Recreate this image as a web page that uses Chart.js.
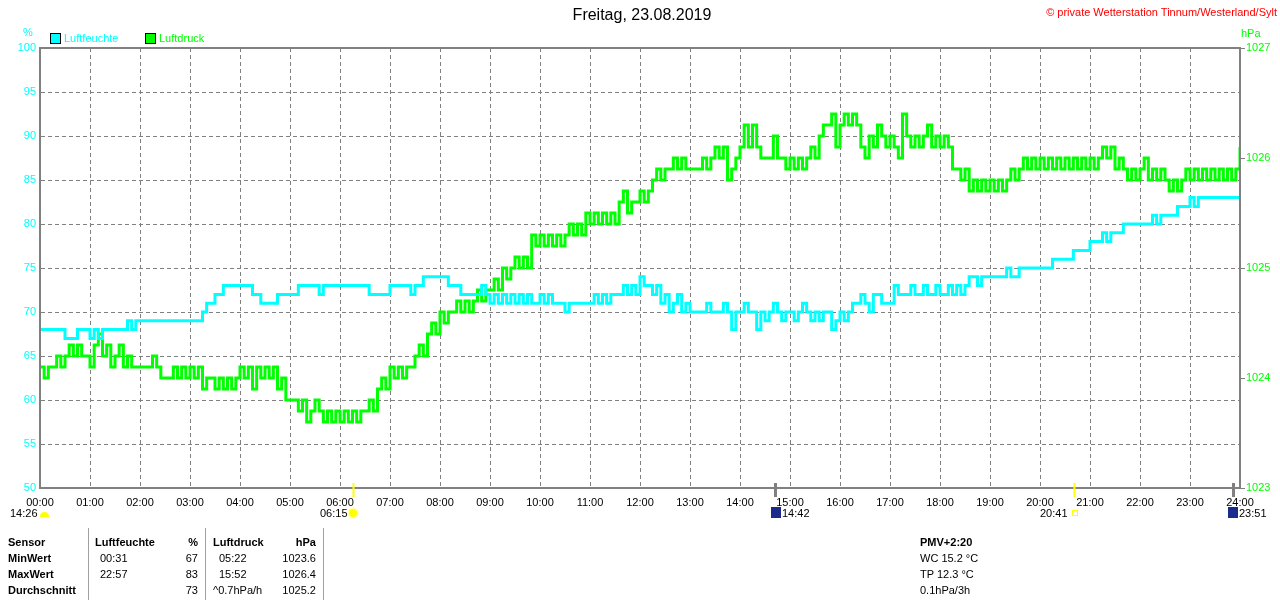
<!DOCTYPE html>
<html>
<head>
<meta charset="utf-8">
<script src="https://cdn.jsdelivr.net/npm/chart.js@4.4.1/dist/chart.umd.min.js"></script>
<style>
body { margin: 0; background: #fff; font-family: "Liberation Sans", Arial, sans-serif; font-size: 11px; }
#wrap { position: relative; width: 1280px; height: 600px; overflow: hidden; }
#chart { position: absolute; left: 0; top: 0; }
.t { position: absolute; white-space: nowrap; line-height: 12px; }
.b { font-weight: bold; }
.sep { position: absolute; top: 528px; width: 1px; height: 72px; background: #a0a0a0; }
.box { position: absolute; width: 9px; height: 9px; border: 1px solid #000; }
</style>
</head>
<body>
<div id="wrap">
  <canvas id="chart" width="1280" height="600"></canvas>

  <div class="t" style="left:0;width:1284px;text-align:center;top:7px;font-size:16px;line-height:16px;">Freitag, 23.08.2019</div>
  <div class="t" style="right:3px;top:6px;color:#ff0000;">© private Wetterstation Tinnum/Westerland/Sylt</div>

  <div class="t" style="left:23px;top:26px;color:#00ffff;">%</div>
  <div class="t" style="left:1241px;top:27px;color:#00ff00;">hPa</div>

  <div class="box" style="left:50px;top:33px;background:#00ffff;"></div>
  <div class="t" style="left:64px;top:32px;color:#00ffff;">Luftfeuchte</div>
  <div class="box" style="left:145px;top:33px;background:#00ff00;"></div>
  <div class="t" style="left:159px;top:32px;color:#00ff00;">Luftdruck</div>

  <!-- sun / moon times under the axis -->
  <div class="t" style="left:10px;top:507px;">14:26</div>
  <div style="position:absolute;left:40px;top:512px;width:9px;height:5px;background:#ffff00;border-radius:5px 5px 0 0;"></div>
  <div class="t" style="left:320px;top:507px;">06:15</div>
  <div style="position:absolute;left:349px;top:509px;width:8px;height:8px;background:#ffff00;border-radius:50%;box-shadow:0 0 2px 1px #ffff80;"></div>
  <div style="position:absolute;left:771px;top:507px;width:10px;height:11px;background:#1c2a8c;"></div>
  <div class="t" style="left:782px;top:507px;">14:42</div>
  <div class="t" style="left:1040px;top:507px;">20:41</div>
  <div style="position:absolute;left:1072px;top:510px;width:4px;height:4px;border:1px solid #ffff00;"></div>
  <div style="position:absolute;left:1228px;top:507px;width:10px;height:11px;background:#1c2a8c;"></div>
  <div class="t" style="left:1239px;top:507px;">23:51</div>

  <!-- summary table -->
  <div class="sep" style="left:88px;"></div>
  <div class="sep" style="left:205px;"></div>
  <div class="sep" style="left:323px;"></div>

  <div class="t b" style="left:8px;top:536px;">Sensor</div>
  <div class="t b" style="left:8px;top:552px;">MinWert</div>
  <div class="t b" style="left:8px;top:568px;">MaxWert</div>
  <div class="t b" style="left:8px;top:584px;">Durchschnitt</div>

  <div class="t b" style="left:95px;top:536px;">Luftfeuchte</div>
  <div class="t b" style="right:1082px;top:536px;">%</div>
  <div class="t" style="left:100px;top:552px;">00:31</div>
  <div class="t" style="right:1082px;top:552px;">67</div>
  <div class="t" style="left:100px;top:568px;">22:57</div>
  <div class="t" style="right:1082px;top:568px;">83</div>
  <div class="t" style="right:1082px;top:584px;">73</div>

  <div class="t b" style="left:213px;top:536px;">Luftdruck</div>
  <div class="t b" style="right:964px;top:536px;">hPa</div>
  <div class="t" style="left:219px;top:552px;">05:22</div>
  <div class="t" style="right:964px;top:552px;">1023.6</div>
  <div class="t" style="left:219px;top:568px;">15:52</div>
  <div class="t" style="right:964px;top:568px;">1026.4</div>
  <div class="t" style="left:213px;top:584px;">^0.7hPa/h</div>
  <div class="t" style="right:964px;top:584px;">1025.2</div>

  <div class="t b" style="left:920px;top:536px;">PMV+2:20</div>
  <div class="t" style="left:920px;top:552px;">WC 15.2 °C</div>
  <div class="t" style="left:920px;top:568px;">TP 12.3 °C</div>
  <div class="t" style="left:920px;top:584px;">0.1hPa/3h</div>
</div>

<script>
// 5-minute readings, 00:00 .. 24:00 (one row per hour)
const stepMinutes = 5

const humidity = [
  68, 68, 68, 68, 68, 68, 67, 67, 67, 68, 68, 68,
  67, 68, 67, 68, 68, 68, 68, 68, 68, 69, 68, 69,
  69, 69, 69, 69, 69, 69, 69, 69, 69, 69, 69, 69,
  69, 69, 69, 70, 71, 71, 72, 72, 73, 73, 73, 73,
  73, 73, 73, 72, 72, 71, 71, 71, 71, 72, 72, 72,
  72, 72, 73, 73, 73, 73, 73, 72, 73, 73, 73, 73,
  73, 73, 73, 73, 73, 73, 73, 72, 72, 72, 72, 72,
  73, 73, 73, 73, 73, 72, 73, 73, 74, 74, 74, 74,
  74, 74, 73, 73, 73, 72, 72, 72, 72, 72, 73, 72,
  71, 72, 71, 72, 71, 72, 71, 72, 71, 72, 71, 71,
  72, 71, 72, 71, 71, 71, 70, 71, 71, 71, 71, 71,
  71, 72, 71, 72, 71, 72, 72, 72, 73, 72, 73, 72,
  74, 73, 73, 72, 73, 71, 72, 70, 71, 72, 70, 71,
  70, 70, 70, 70, 71, 70, 70, 70, 71, 70, 68, 70,
  70, 71, 70, 70, 68, 70, 69, 70, 71, 70, 69, 70,
  70, 69, 70, 71, 70, 69, 70, 69, 70, 70, 68, 69,
  70, 69, 70, 71, 71, 72, 71, 70, 72, 72, 71, 71,
  71, 73, 72, 72, 72, 73, 72, 72, 73, 72, 72, 73,
  72, 72, 73, 72, 73, 72, 73, 74, 74, 73, 74, 74,
  74, 74, 74, 74, 75, 74, 74, 75, 75, 75, 75, 75,
  75, 75, 75, 76, 76, 76, 76, 76, 77, 77, 77, 77,
  78, 78, 78, 79, 78, 79, 79, 79, 80, 80, 80, 80,
  80, 80, 80, 81, 80, 81, 81, 81, 81, 82, 82, 82,
  83, 82, 83, 83, 83, 83, 83, 83, 83, 83, 83, 83,
  83
]

const pressure = [
  1024.1, 1024.0, 1024.1, 1024.1, 1024.2, 1024.1, 1024.2, 1024.3, 1024.2, 1024.3, 1024.2, 1024.2,
  1024.1, 1024.3, 1024.4, 1024.2, 1024.3, 1024.1, 1024.2, 1024.3, 1024.1, 1024.2, 1024.1, 1024.1,
  1024.1, 1024.1, 1024.1, 1024.2, 1024.1, 1024.0, 1024.0, 1024.0, 1024.1, 1024.0, 1024.1, 1024.0,
  1024.1, 1024.0, 1024.1, 1023.9, 1024.0, 1024.0, 1023.9, 1024.0, 1023.9, 1024.0, 1023.9, 1024.0,
  1024.1, 1024.0, 1024.1, 1023.9, 1024.1, 1024.0, 1024.1, 1024.0, 1024.1, 1023.9, 1024.0, 1023.8,
  1023.8, 1023.8, 1023.7, 1023.8, 1023.6, 1023.7, 1023.8, 1023.7, 1023.6, 1023.7, 1023.6, 1023.7,
  1023.6, 1023.7, 1023.6, 1023.7, 1023.6, 1023.7, 1023.7, 1023.8, 1023.7, 1023.9, 1024.0, 1023.9,
  1024.1, 1024.0, 1024.1, 1024.0, 1024.1, 1024.1, 1024.2, 1024.3, 1024.2, 1024.4, 1024.5, 1024.4,
  1024.6, 1024.5, 1024.6, 1024.6, 1024.7, 1024.6, 1024.7, 1024.6, 1024.7, 1024.8, 1024.7, 1024.8,
  1024.8, 1024.9, 1024.8, 1025.0, 1024.9, 1025.0, 1025.1, 1025.0, 1025.1, 1025.0, 1025.3, 1025.2,
  1025.3, 1025.2, 1025.3, 1025.2, 1025.3, 1025.2, 1025.3, 1025.4, 1025.3, 1025.4, 1025.3, 1025.5,
  1025.4, 1025.5, 1025.4, 1025.5, 1025.4, 1025.5, 1025.4, 1025.6, 1025.7, 1025.5, 1025.6, 1025.6,
  1025.7, 1025.6, 1025.7, 1025.8, 1025.9, 1025.8, 1025.9, 1025.9, 1026.0, 1025.9, 1026.0, 1025.9,
  1025.9, 1025.9, 1025.9, 1026.0, 1025.9, 1026.0, 1026.1, 1026.0, 1026.1, 1025.8, 1025.9, 1026.0,
  1026.1, 1026.3, 1026.1, 1026.3, 1026.1, 1026.0, 1026.0, 1026.0, 1026.2, 1026.0, 1026.0, 1025.9,
  1026.0, 1025.9, 1026.0, 1025.9, 1026.0, 1026.1, 1026.0, 1026.2, 1026.3, 1026.3, 1026.4, 1026.1,
  1026.3, 1026.4, 1026.3, 1026.4, 1026.3, 1026.1, 1026.0, 1026.2, 1026.1, 1026.3, 1026.2, 1026.1,
  1026.2, 1026.1, 1026.0, 1026.4, 1026.2, 1026.1, 1026.2, 1026.1, 1026.2, 1026.3, 1026.1, 1026.2,
  1026.1, 1026.2, 1026.1, 1025.9, 1025.9, 1025.8, 1025.9, 1025.7, 1025.8, 1025.7, 1025.8, 1025.7,
  1025.8, 1025.7, 1025.8, 1025.7, 1025.8, 1025.9, 1025.8, 1025.9, 1026.0, 1025.9, 1026.0, 1025.9,
  1026.0, 1025.9, 1026.0, 1025.9, 1026.0, 1025.9, 1026.0, 1025.9, 1026.0, 1025.9, 1026.0, 1025.9,
  1026.0, 1025.9, 1026.0, 1026.1, 1026.0, 1026.1, 1025.9, 1026.0, 1025.9, 1025.8, 1025.9, 1025.8,
  1025.9, 1026.0, 1025.8, 1025.9, 1025.8, 1025.9, 1025.8, 1025.7, 1025.8, 1025.7, 1025.8, 1025.9,
  1025.8, 1025.9, 1025.8, 1025.9, 1025.8, 1025.9, 1025.8, 1025.9, 1025.8, 1025.9, 1025.8, 1025.9,
  1026.1
]

const timeTicks = [
  '00:00', '01:00', '02:00', '03:00', '04:00', '05:00', '06:00', '07:00', '08:00',
  '09:00', '10:00', '11:00', '12:00', '13:00', '14:00', '15:00', '16:00', '17:00',
  '18:00', '19:00', '20:00', '21:00', '22:00', '23:00', '24:00'
]

// sunrise, moonset, sunset, moonrise markers on the time axis
const markerTimes = ['06:15', '14:42', '20:41', '23:51']
const markerColors = ['#ffff00', '#808080', '#ffff00', '#808080']

const toMinutes = s => Number(s.slice(0, 2)) * 60 + Number(s.slice(3))
const toPoints = values => values.map((v, i) => ({ x: i * stepMinutes, y: v }))

const frameColor = '#808080'

// frame on all four sides plus the short event markers below the axis
const framePlugin = {
  id: 'frame',
  afterDraw(chart) {
    const { ctx, chartArea: a } = chart
    const xs = chart.scales.x
    ctx.save()
    ctx.strokeStyle = frameColor
    ctx.lineWidth = 2
    ctx.strokeRect(a.left, a.top, a.right - a.left, a.bottom - a.top)
    markerTimes.forEach((t, i) => {
      const px = Math.round(xs.getPixelForValue(toMinutes(t))) + 0.5
      ctx.strokeStyle = markerColors[i]
      ctx.lineWidth = markerColors[i] === frameColor ? 3 : 2
      ctx.beginPath()
      ctx.moveTo(px, a.bottom - 5)
      ctx.lineTo(px, a.bottom + 9)
      ctx.stroke()
    })
    ctx.restore()
  }
}

new Chart(document.getElementById('chart'), {
  type: 'line',
  data: {
    datasets: [
      {
        label: 'Luftfeuchte',
        data: toPoints(humidity),
        yAxisID: 'y',
        borderColor: '#00ffff',
        borderWidth: 3,
        stepped: true,
        pointRadius: 0,
        order: 0
      },
      {
        label: 'Luftdruck',
        data: toPoints(pressure),
        yAxisID: 'y1',
        borderColor: '#00ff00',
        borderWidth: 3,
        stepped: true,
        pointRadius: 0,
        order: 1
      }
    ]
  },
  options: {
    responsive: false,
    animation: false,
    layout: { padding: { top: 48, left: 0, right: 0, bottom: 0 } },
    plugins: {
      legend: { display: false },
      title: { display: false },
      tooltip: { enabled: false }
    },
    scales: {
      x: {
        type: 'linear',
        min: 0,
        max: 1440,
        afterFit: scale => { scale.height = 112 },
        afterBuildTicks: scale => {
          scale.ticks = timeTicks.map((_, i) => ({ value: i * 60 }))
        },
        ticks: {
          color: '#000',
          font: { family: 'Liberation Sans', size: 11 },
          padding: 8,
          maxRotation: 0,
          autoSkip: false,
          callback: value => timeTicks[value / 60]
        },
        grid: {
          color: frameColor,
          lineWidth: 1,
          drawTicks: false
        },
        border: { color: frameColor, width: 2, dash: [4, 3] }
      },
      y: {
        position: 'left',
        min: 50,
        max: 100,
        afterFit: scale => { scale.width = 40 },
        ticks: {
          stepSize: 5,
          color: '#00ffff',
          font: { family: 'Liberation Sans', size: 11 },
          padding: 4
        },
        grid: { color: frameColor, lineWidth: 1, drawTicks: false },
        border: { color: frameColor, width: 2, dash: [4, 3] }
      },
      y1: {
        position: 'right',
        min: 1023,
        max: 1027,
        afterFit: scale => { scale.width = 40 },
        ticks: {
          stepSize: 1,
          color: '#00ff00',
          font: { family: 'Liberation Sans', size: 11 },
          padding: 1,
          callback: value => String(value)
        },
        grid: { drawOnChartArea: false, color: frameColor, tickLength: 5, lineWidth: 1 },
        border: { color: frameColor, width: 2 }
      }
    }
  },
  plugins: [framePlugin]
})
</script>
</body>
</html>
